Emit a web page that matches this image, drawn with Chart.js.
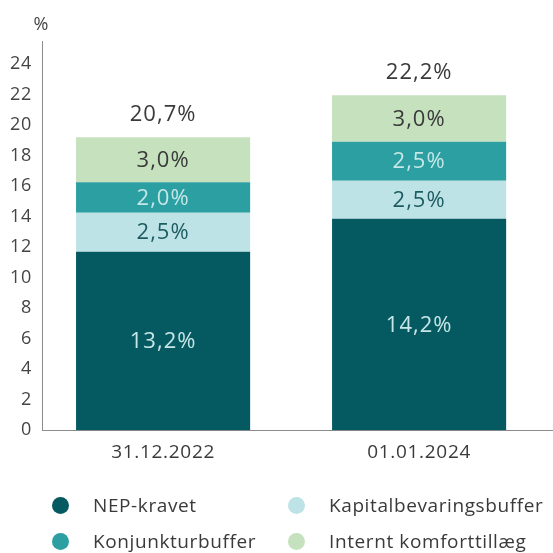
<!DOCTYPE html>
<html>
<head>
<meta charset="utf-8">
<script src="https://cdn.jsdelivr.net/npm/chart.js@4.4.1/dist/chart.umd.min.js"></script>
<style>
  html, body { margin: 0; padding: 0; background: #ffffff; }
  #wrap { position: relative; width: 553px; height: 553px; }
  #c { position: absolute; left: 0; top: 0; }
  #legend { position: absolute; left: 52px; top: 487px; display: grid; grid-template-columns: 236px 236px; grid-auto-rows: 36px;
            font-family: "Open Sans", Lato, sans-serif; font-weight: 400; font-size: 19px; letter-spacing: 0.6px; color: #3a3a3a; }
  .item { display: flex; align-items: center; white-space: nowrap; }
  .dot { width: 17px; height: 17px; border-radius: 50%; margin-right: 24px; flex: none; }
</style>
</head>
<body>
<div id="wrap">
  <canvas id="c" width="553" height="553"></canvas>
  <div id="legend"></div>
</div>
<script>
// ---- data ----
const categories = ['31.12.2022', '01.01.2024'];
const seriesNames = ['NEP-kravet', 'Kapitalbevaringsbuffer', 'Konjunkturbuffer', 'Internt komforttillæg'];
const nepKravet = [11.7, 13.85];
const kapitalbevaringsbuffer = [2.55, 2.5];
const konjunkturbuffer = [2.0, 2.55];
const interntKomforttillaeg = [2.95, 3.05];
const nepLabels = ['13,2%', '14,2%'];
const kapitalLabels = ['2,5%', '2,5%'];
const konjunkturLabels = ['2,0%', '2,5%'];
const interntLabels = ['3,0%', '3,0%'];
const totalLabels = ['20,7%', '22,2%'];
const yTicks = [0, 2, 4, 6, 8, 10, 12, 14, 16, 18, 20, 22, 24];

const colors = ['#055a61', '#bee3e6', '#2b9fa2', '#c5e1bd'];
const labelColors = ['#c7e6e7', '#1d5d62', '#c5e7e6', '#3a3a3a'];
const values = [nepKravet, kapitalbevaringsbuffer, konjunkturbuffer, interntKomforttillaeg];
const segLabels = [nepLabels, kapitalLabels, konjunkturLabels, interntLabels];
const FONT = '"Open Sans", Lato, sans-serif';

const datasets = seriesNames.map((name, i) => ({
  label: name,
  data: values[i].map((v, j) => ({ x: j, y: v })),
  backgroundColor: colors[i],
  borderWidth: 0,
  categoryPercentage: 1,
  barPercentage: 0.68
}));

const spacingPlugin = {
  id: 'spacing',
  beforeUpdate(chart) { chart.ctx.letterSpacing = '0.7px'; },
  beforeDraw(chart) { chart.ctx.letterSpacing = '0.7px'; }
};

const labelPlugin = {
  id: 'segLabels',
  afterDatasetsDraw(chart) {
    const ctx = chart.ctx;
    ctx.save();
    ctx.textAlign = 'center';
    ctx.textBaseline = 'middle';
    ctx.letterSpacing = '1px';
    ctx.font = '400 22px ' + FONT;
    chart.data.datasets.forEach((ds, i) => {
      const meta = chart.getDatasetMeta(i);
      meta.data.forEach((bar, j) => {
        const p = bar.getProps(['x', 'y', 'base'], true);
        ctx.fillStyle = labelColors[i];
        ctx.fillText(segLabels[i][j], p.x, (p.y + p.base) / 2 + 1);
        if (i === chart.data.datasets.length - 1) {
          ctx.fillStyle = '#3a3a3a';
          ctx.fillText(totalLabels[j], p.x, p.y - 22);
        }
      });
    });
    // unit label
    const ys = chart.scales.y;
    ctx.letterSpacing = '0px';
    ctx.font = '400 18px ' + FONT;
    ctx.fillStyle = '#444444';
    ctx.fillText('%', ys.right - 1, chart.chartArea.top - 16);
    ctx.restore();
  }
};

new Chart(document.getElementById('c'), {
  type: 'bar',
  data: { datasets },
  plugins: [spacingPlugin, labelPlugin],
  options: {
    responsive: false,
    animation: false,
    layout: { padding: { top: 41, right: 0, bottom: 78, left: 0 } },
    plugins: { legend: { display: false }, tooltip: { enabled: false } },
    scales: {
      x: {
        type: 'linear',
        stacked: true,
        offset: false,
        min: -0.473,
        max: 1.523,
        grid: { display: false, drawTicks: false, offset: false },
        border: { display: true, color: '#8c8c8c', width: 1 },
        ticks: {
          stepSize: 1,
          includeBounds: false,
          padding: 11,
          color: '#3a3a3a',
          font: { family: FONT, size: 19, weight: 400 },
          callback: (v) => Number.isInteger(v) ? categories[v] : ''
        }
      },
      y: {
        stacked: true,
        min: 0,
        max: 25.5,
        afterFit(scale) { scale.width = 42; },
        grid: { display: false, drawTicks: false },
        border: { display: true, color: '#8c8c8c', width: 1 },
        ticks: {
          stepSize: 2,
          includeBounds: false,
          padding: 10,
          color: '#444444',
          font: { family: FONT, size: 18, weight: 400 },
          callback: (v) => yTicks.includes(v) ? String(v) : ''
        }
      }
    }
  }
});

// legend (HTML) built from series arrays
const legend = document.getElementById('legend');
seriesNames.forEach((name, i) => {
  const item = document.createElement('div');
  item.className = 'item';
  const dot = document.createElement('span');
  dot.className = 'dot';
  dot.style.background = colors[i];
  const txt = document.createElement('span');
  txt.textContent = name;
  item.appendChild(dot);
  item.appendChild(txt);
  legend.appendChild(item);
});
</script>
</body>
</html>
